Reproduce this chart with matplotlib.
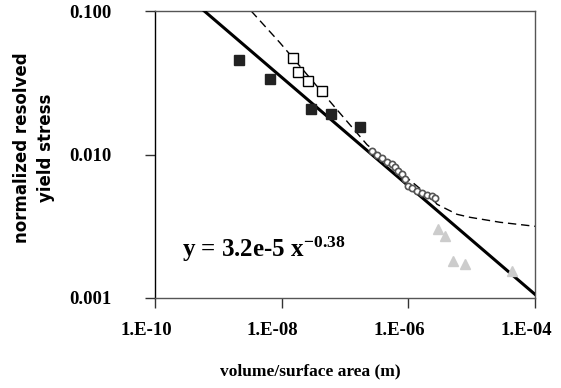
import matplotlib
matplotlib.use("Agg")
import matplotlib.pyplot as plt
from matplotlib.transforms import ScaledTranslation

# filled squares
solid_x = [2.12e-9, 6.55e-9, 2.90e-8, 6.01e-8, 1.73e-7]
solid_y = [0.0457, 0.0337, 0.0208, 0.0193, 0.0156]

# open squares
open_x = [1.51e-8, 1.81e-8, 2.61e-8, 4.34e-8]
open_y = [0.0472, 0.0377, 0.0327, 0.0278]

# cluster of small open markers along the fit
clus_x = [2.67e-7, 3.20e-7, 3.84e-7, 4.60e-7, 5.52e-7, 6.17e-7, 6.87e-7, 7.94e-7,
          8.85e-7, 9.89e-7, 1.14e-6, 1.37e-6, 1.64e-6, 1.97e-6, 2.37e-6, 2.64e-6]
clus_y = [0.0105, 0.0100, 0.00953, 0.00893, 0.00853, 0.00813, 0.00762, 0.00726,
          0.00670, 0.00600, 0.00581, 0.00553, 0.00536, 0.00519, 0.00511, 0.00494]

# grey triangles
tri_x = [2.94e-6, 3.79e-6, 5.07e-6, 7.85e-6, 4.34e-5]
tri_y = [0.00301, 0.00270, 0.00181, 0.00172, 0.00154]

# dashed model curve
dash_x = [3.3e-9, 9.42e-9, 7.48e-8, 2.23e-7, 2.45e-6, 2.84e-6, 5.87e-6, 9.42e-6, 2.81e-5, 1.0e-4]
dash_y = [0.100, 0.060, 0.0205, 0.0117, 0.00487, 0.0045, 0.00383, 0.00365, 0.00337, 0.00316]

# power-law fit, end points
fit_x = [6.0e-10, 1.0e-4]
fit_y = [0.100, 0.00106]

xticks = [1e-10, 1e-8, 1e-6, 1e-4]
xlabels = ['1.E-10', '1.E-08', '1.E-06', '1.E-04']
yticks = [0.001, 0.01, 0.1]
ylabels = ['0.001', '0.010', '0.100']

plt.rcParams['mathtext.fontset'] = 'custom'
plt.rcParams['mathtext.rm'] = 'Liberation Serif:bold'
plt.rcParams['mathtext.it'] = 'Liberation Serif:bold'
plt.rcParams['mathtext.bf'] = 'Liberation Serif:bold'

fig = plt.figure(figsize=(5.61, 3.88), dpi=100)
ax = fig.add_axes([155 / 561, 1 - 298 / 388, 380 / 561, 287 / 388])
ax.set_xscale('log')
ax.set_yscale('log')
ax.set_xlim(1e-10, 1e-4)
ax.set_ylim(0.001, 0.1)

ax.plot(dash_x, dash_y, color='black', lw=1.0, dashes=(6, 3.5), zorder=2)
ax.plot(fit_x, fit_y, color='black', lw=2.2, zorder=3)

ax.plot(solid_x, solid_y, 's', ms=7, mfc='#222222', mec='#222222', zorder=4)
ax.plot(open_x, open_y, 's', ms=7, mfc='white', mec='black', mew=1.0, zorder=4)
ax.plot(clus_x, clus_y, 'o', ms=4.5, mfc='white', mec='#555555', mew=1.2, zorder=4)
ax.plot(tri_x, tri_y, '^', ms=7.5, mfc='#cccccc', mec='#cccccc', zorder=4)

ax.set_xticks(xticks)
ax.set_xticklabels(xlabels)
ax.set_yticks(yticks)
ax.set_yticklabels(ylabels)
ax.minorticks_off()
ax.tick_params(direction='out', length=7, width=1, pad=10, color='#333333')
ax.tick_params(axis='y', pad=24)
for lab in ax.get_xticklabels() + ax.get_yticklabels():
    lab.set_fontfamily('Liberation Serif')
    lab.set_fontweight('bold')
    lab.set_fontsize(13.5)
# excel-style labels sit a little left of their ticks
shift = ScaledTranslation(-9 / 100, 0, fig.dpi_scale_trans)
for lab in ax.get_xticklabels():
    lab.set_transform(lab.get_transform() + shift)
for sp in ax.spines.values():
    sp.set_color('#555555')
    sp.set_linewidth(1.0)
ax.spines['left'].set_color('black')

fig.text(310 / 561, 1 - 371 / 388, 'volume/surface area (m)', ha='center', va='center',
         fontfamily='Liberation Serif', fontweight='bold', fontsize=12.5)
fig.text(34 / 561, 1 - 148 / 388, 'normalized resolved\nyield stress', rotation=90,
         ha='center', va='center', fontfamily='DejaVu Sans', fontweight='bold',
         fontsize=12, linespacing=1.45)

ax.text(0.071, 0.143, r'y = 3.2e-5 x$^{-0.38}$', transform=ax.transAxes,
        fontfamily='Liberation Serif', fontweight='bold', fontsize=18,
        va='baseline', ha='left')

fig.savefig('out.png', dpi=100)
